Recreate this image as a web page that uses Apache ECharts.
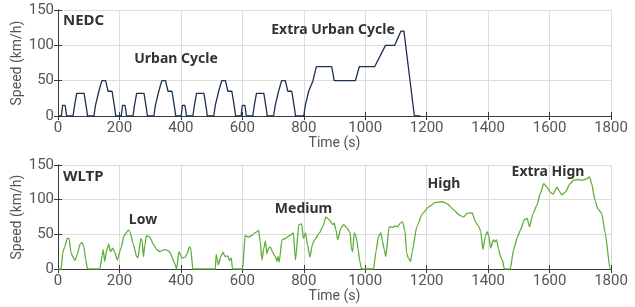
<!DOCTYPE html>
<html>
<head>
<meta charset="utf-8">
<script src="https://cdn.jsdelivr.net/npm/echarts@6.0.0/dist/echarts.min.js"></script>
<style>
  html, body { margin: 0; padding: 0; background: #fff; }
  #chart { width: 635px; height: 307px; }
</style>
</head>
<body>
<div id="chart"></div>
<script>
// NEDC: 4 x ECE-15 urban cycles + EUDC (breakpoints in s / km/h)
const nedcTime = [
  0, 11, 15, 23, 25, 28, 49, 54, 56, 61, 85, 93, 96, 117, 122, 124, 133, 135, 143, 155, 163, 176, 185, 188,
  195, 206, 210, 218, 220, 223, 244, 249, 251, 256, 280, 288, 291, 312, 317, 319, 328, 330, 338, 350, 358, 371, 380, 383,
  390, 401, 405, 413, 415, 418, 439, 444, 446, 451, 475, 483, 486, 507, 512, 514, 523, 525, 533, 545, 553, 566, 575, 578,
  585, 596, 600, 608, 610, 613, 634, 639, 641, 646, 670, 678, 681, 702, 707, 709, 718, 720, 728, 740, 748, 761, 770, 773,
  780, 800, 805, 807, 816, 818, 830, 832, 841, 891, 899, 968, 981, 1031, 1066, 1096, 1116, 1126, 1160, 1180
];
const nedcSpeed = [
  0, 0, 15, 15, 10, 0, 0, 15, 15, 32, 32, 10, 0, 0, 15, 15, 35, 35, 50, 50, 35, 35, 10, 0,
  0, 0, 15, 15, 10, 0, 0, 15, 15, 32, 32, 10, 0, 0, 15, 15, 35, 35, 50, 50, 35, 35, 10, 0,
  0, 0, 15, 15, 10, 0, 0, 15, 15, 32, 32, 10, 0, 0, 15, 15, 35, 35, 50, 50, 35, 35, 10, 0,
  0, 0, 15, 15, 10, 0, 0, 15, 15, 32, 32, 10, 0, 0, 15, 15, 35, 35, 50, 50, 35, 35, 10, 0,
  0, 0, 15, 15, 35, 35, 50, 50, 70, 70, 50, 50, 70, 70, 100, 100, 120, 120, 0, 0
];

// WLTP class 3
const wltpTime = [
  0, 10, 16, 22, 30, 36, 42, 48, 55, 62, 72, 78, 84, 90, 96,
  136, 144, 147, 152, 158, 165, 171, 178, 185, 193, 205, 215, 229, 234, 245, 256, 260, 270, 274, 278, 283, 288, 299,
  310, 321, 332, 340, 348, 359, 365, 370, 380, 386, 394, 399, 403, 414, 420, 428, 432, 439,
  512, 515, 518, 522, 530, 537, 544, 553, 558, 564, 568,
  601, 609, 620, 630, 640, 648, 653, 658, 664, 670, 675, 680, 685, 691, 698, 707, 713, 716, 720, 729, 740, 756, 766,
  773, 784, 793, 799, 806, 812, 820, 828, 835, 851, 862, 872, 883, 894, 899, 905, 910, 921, 930, 941, 951, 955, 959,
  964, 968, 973, 977, 982, 988,
  1027, 1035, 1043, 1051, 1056, 1062, 1067, 1078, 1089, 1097, 1105, 1116, 1121, 1129, 1135, 1140, 1148, 1152, 1168,
  1186, 1208, 1229, 1251, 1267, 1289, 1305, 1321, 1330, 1348, 1359, 1370, 1376, 1383, 1391, 1397, 1403, 1408, 1417,
  1422, 1427, 1435, 1440, 1446, 1453,
  1472, 1483, 1496, 1505, 1518, 1527, 1535, 1546, 1559, 1570, 1581, 1592, 1602, 1611, 1624, 1632, 1640, 1651, 1667,
  1678, 1694, 1705, 1721, 1730, 1737, 1748, 1757, 1770, 1781, 1797, 1800
];
const wltpSpeed = [
  0, 0, 25, 32, 44, 44, 24, 18, 12, 20, 36, 38, 33, 14, 0,
  0, 20, 28, 11, 26, 36, 25, 30, 24, 13, 30, 48, 56, 54, 36, 18, 16, 44, 40, 18, 35, 48, 46,
  36, 28, 25, 27, 28, 26, 24, 18, 8, 0, 25, 20, 16, 17, 22, 32, 30, 0,
  0, 21, 15, 6, 18, 24, 18, 19, 12, 16, 0,
  0, 48, 46, 48, 52, 54, 56, 40, 13, 30, 40, 22, 30, 32, 25, 18, 11, 18, 10, 42, 44, 49, 52,
  13, 64, 65, 44, 52, 35, 17, 35, 42, 52, 61, 75, 71, 64, 66, 56, 42, 59, 64, 59, 52, 30, 25,
  52, 50, 40, 28, 12, 0,
  0, 25, 47, 52, 40, 28, 18, 61, 60, 62, 61, 67, 68, 56, 23, 16, 11, 23, 61,
  80, 90, 96, 97, 94, 85, 78, 75, 80, 81, 68, 61, 54, 28, 47, 54, 47, 30, 42,
  39, 42, 28, 18, 13, 0,
  0, 28, 47, 56, 71, 73, 61, 80, 92, 109, 123, 118, 111, 108, 118, 112, 107, 111, 123,
  128, 129, 128, 130, 133, 123, 99, 87, 80, 52, 0, 0
];

const xMax = 1800;
const yMax = 150;

function pairs(t, v) {
  return t.map((x, i) => [x, v[i]]);
}

const fontTick = 'Roboto, sans-serif';
const frame = '#3a3a3a';

function xAxes(gridIndex) {
  return [
    {
      gridIndex: gridIndex, type: 'value', min: 0, max: xMax, interval: 200, position: 'bottom',
      name: 'Time (s)', nameLocation: 'middle', nameGap: 20, nameMoveOverlap: false,
      nameTextStyle: { fontSize: 14, color: '#555', fontFamily: fontTick },
      axisLine: { show: true, lineStyle: { color: frame } },
      axisTick: { show: true, inside: true, length: 4, lineStyle: { color: frame } },
      axisLabel: { fontSize: 15, color: '#555', fontFamily: fontTick, margin: 5, formatter: (v) => String(v) },
      splitLine: { show: true, lineStyle: { color: '#dcdcdc' } }
    },
    {
      gridIndex: gridIndex, type: 'value', min: 0, max: xMax, interval: 200, position: 'top',
      axisLine: { show: true, lineStyle: { color: frame } },
      axisTick: { show: true, inside: true, length: 4, lineStyle: { color: frame } },
      axisLabel: { show: false },
      splitLine: { show: false }
    }
  ];
}

function yAxes(gridIndex) {
  return [
    {
      gridIndex: gridIndex, type: 'value', min: 0, max: yMax, interval: 50, position: 'left',
      name: 'Speed (km/h)', nameLocation: 'middle', nameGap: 34, nameMoveOverlap: false,
      nameTextStyle: { fontSize: 14, color: '#555', fontFamily: fontTick },
      axisLine: { show: true, lineStyle: { color: frame } },
      axisTick: { show: true, inside: true, length: 4, lineStyle: { color: frame } },
      axisLabel: { fontSize: 15, color: '#555', fontFamily: fontTick, margin: 4 },
      splitLine: { show: true, lineStyle: { color: '#dcdcdc' } }
    },
    {
      gridIndex: gridIndex, type: 'value', min: 0, max: yMax, interval: 50, position: 'right',
      axisLine: { show: true, lineStyle: { color: frame } },
      axisTick: { show: true, inside: true, length: 4, lineStyle: { color: frame } },
      axisLabel: { show: false },
      splitLine: { show: false }
    }
  ];
}

function label(text, x, y, size, align) {
  return {
    type: 'text', x: x, y: y, z: 100,
    style: {
      text: text, fill: '#333', font: 'bold ' + size + 'px "Noto Sans", sans-serif',
      textAlign: align || 'center', textVerticalAlign: 'middle'
    }
  };
}

const chart = echarts.init(document.getElementById('chart'), null, { renderer: 'canvas' });
chart.setOption({
  animation: false,
  grid: [
    { left: 58, right: 24, top: 10, height: 106, outerBoundsMode: 'none', containLabel: false },
    { left: 58, right: 24, top: 165, height: 104, outerBoundsMode: 'none', containLabel: false }
  ],
  xAxis: xAxes(0).concat(xAxes(1)),
  yAxis: yAxes(0).concat(yAxes(1)),
  series: [
    {
      name: 'NEDC', type: 'line', xAxisIndex: 0, yAxisIndex: 0,
      data: pairs(nedcTime, nedcSpeed), showSymbol: false,
      lineStyle: { color: '#1b3150', width: 1.3 }
    },
    {
      name: 'WLTP', type: 'line', xAxisIndex: 2, yAxisIndex: 2,
      data: pairs(wltpTime, wltpSpeed), showSymbol: false,
      smooth: 0.2, smoothMonotone: 'x',
      lineStyle: { color: '#5fae3a', width: 1.3 }
    }
  ],
  graphic: [
    label('NEDC', 63, 21, 15, 'left'),
    label('Urban Cycle', 176, 59, 14),
    label('Extra Urban Cycle', 333, 30.5, 14),
    label('WLTP', 63, 176.5, 15, 'left'),
    label('Low', 143, 220.5, 14),
    label('Medium', 303.5, 209.5, 14),
    label('High', 444, 184, 14),
    label('Extra Hign', 548, 172, 14)
  ]
});
</script>
</body>
</html>
